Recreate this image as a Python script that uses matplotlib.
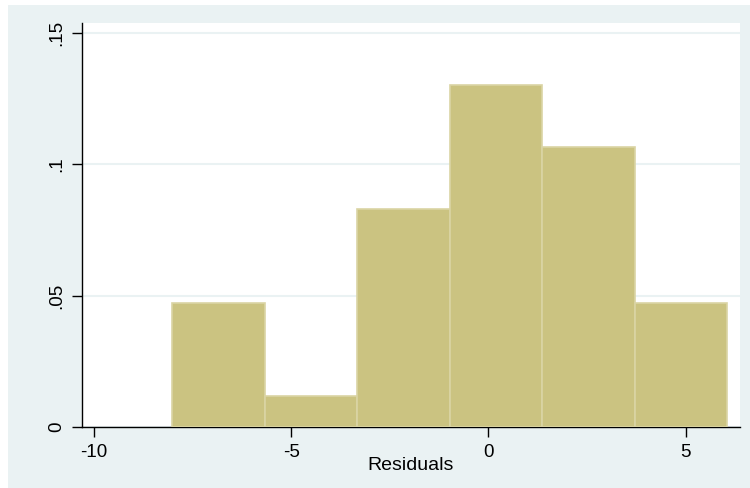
import matplotlib
matplotlib.use("Agg")
import matplotlib.pyplot as plt
from matplotlib.patches import Rectangle
import numpy as np

# Histogram of residuals (density scale)
bin_edges = [-8.02, -5.675, -3.33, -0.985, 1.36, 3.705, 6.05]
bin_counts = [4, 1, 7, 11, 9, 4]
y_ticks = [0, 0.05, 0.1, 0.15]
y_tick_labels = ["0", ".05", ".1", ".15"]
x_ticks = [-10, -5, 0, 5]
x_tick_labels = ["-10", "-5", "0", "5"]

plt.rcParams["font.family"] = ["Liberation Sans", "DejaVu Sans"]

W, H = 750, 488
fig = plt.figure(figsize=(W / 100, H / 100), dpi=100, facecolor="white")

# light outer panel, kept behind the axes
panel = Rectangle((8 / W, 0), (W - 8) / W, (H - 5) / H,
                  transform=fig.transFigure, facecolor="#EAF2F3",
                  edgecolor="none", zorder=-10)
fig.add_artist(panel)

ax = fig.add_axes([82 / W, (H - 427) / H, 658 / W, (427 - 22.7) / H])
ax.set_zorder(1)
ax.set_facecolor("white")

centers = [(a + b) / 2 for a, b in zip(bin_edges[:-1], bin_edges[1:])]
ax.hist(centers, bins=bin_edges, weights=bin_counts, density=True,
        color="#CBC381", edgecolor="#DAD4A4", linewidth=1.2, zorder=3)

ax.set_xlim(-10.30, 6.375)
ax.set_ylim(0, 0.154)

ax.set_yticks(y_ticks)
ax.set_yticklabels(y_tick_labels, rotation=90, va="center", fontsize=13.5)
ax.set_xticks(x_ticks)
ax.set_xticklabels(x_tick_labels, fontsize=13.5)
ax.tick_params(axis="both", length=7, width=1, color="black", pad=5)

ax.grid(axis="y", color="#EAF2F3", linewidth=1.5, zorder=1)
ax.set_axisbelow(True)

for s in ["top", "right"]:
    ax.spines[s].set_visible(False)
for s in ["left", "bottom"]:
    ax.spines[s].set_color("black")
    ax.spines[s].set_linewidth(1)

ax.set_xlabel("Residuals", fontsize=14, labelpad=-3)

fig.savefig("out.png", dpi=100, facecolor="white")
